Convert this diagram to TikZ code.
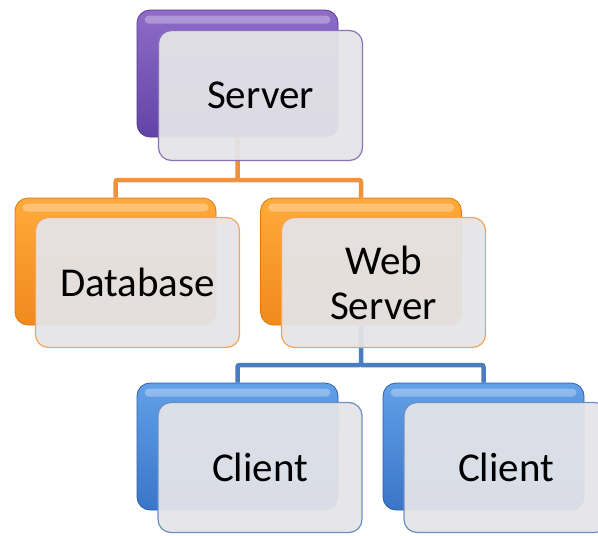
\documentclass[tikz,border=0pt]{standalone}
\usepackage{fontspec}
\setmainfont{Carlito}
\usetikzlibrary{calc}
\definecolor{pTop}{HTML}{8E6CC8}
\definecolor{pBot}{HTML}{6244A6}
\definecolor{pLine}{HTML}{553A8E}
\definecolor{pEdge}{HTML}{8A72B8}
\definecolor{oTop}{HTML}{FFAA3A}
\definecolor{oBot}{HTML}{F08A1C}
\definecolor{oLine}{HTML}{D9790E}
\definecolor{oEdge}{HTML}{F2A45A}
\definecolor{bTop}{HTML}{62A0E8}
\definecolor{bBot}{HTML}{3A75C8}
\definecolor{bLine}{HTML}{2E5EA6}
\definecolor{bEdge}{HTML}{6A90C6}
\definecolor{frontGray}{HTML}{E4E4E8}
\definecolor{oConn}{HTML}{F0923B}
\definecolor{bConn}{HTML}{4A7DC0}
\pgfdeclarelayer{bg}
\pgfsetlayers{bg,main}
\tikzset{
  backbox/.style n args={3}{rectangle, rounded corners=13pt,
    minimum width=201pt, minimum height=127pt, inner sep=0pt,
    draw=#1, line width=0.8pt, top color=#2, bottom color=#3},
  frontbox/.style={rectangle, rounded corners=13pt,
    minimum width=204pt, minimum height=130pt, inner sep=0pt,
    draw=#1, line width=1.2pt, fill=frontGray, fill opacity=0.94,
    text opacity=1, align=center, text=black,
    font=\fontsize{41}{45}\selectfont},
  gloss/.style={fill=white, opacity=0.3, rounded corners=4pt},
  conn/.style={draw=#1, line width=4.5pt, rounded corners=2pt}
}
\begin{document}
\begin{tikzpicture}[x=1pt,y=-1pt]
\useasboundingbox (0,0) rectangle (598,536);

\coordinate (bus1) at (0,180);
\coordinate (bus2) at (0,365);

% back boxes
\node[backbox={pLine}{pTop}{pBot}] (sb) at (237.5,73.5) {};
\node[backbox={oLine}{oTop}{oBot}] (db) at (115.5,261.5) {};
\node[backbox={oLine}{oTop}{oBot}] (wb) at (361,261.5) {};
\node[backbox={bLine}{bTop}{bBot}] (c1b) at (237.5,446.5) {};
\node[backbox={bLine}{bTop}{bBot}] (c2b) at (483.5,446.5) {};

% gloss highlights
\foreach \n in {sb,db,wb,c1b,c2b}{
  \fill[gloss] ([xshift=8pt,yshift=-6pt]\n.north west) rectangle ([xshift=-8pt,yshift=-14pt]\n.north east);
}

% front boxes
\node[frontbox=pEdge] (s) at (260.5,95.5) {Server};
\node[frontbox=oEdge] (d) at (137.5,282.5) {Database};
\node[frontbox=oEdge] (w) at (383.5,282.5) {Web\\Server};
\node[frontbox=bEdge] (c1) at (260,467.5) {Client};
\node[frontbox=bEdge] (c2) at (506,467.5) {Client};

% connectors
\begin{pgfonlayer}{bg}
\draw[conn=oConn] (sb.south) -- (sb.south |- bus1) -| (db.north);
\draw[conn=oConn] (sb.south |- bus1) -| (wb.north);
\draw[conn=bConn] (wb.south) -- (wb.south |- bus2) -| (c1b.north);
\draw[conn=bConn] (wb.south |- bus2) -| (c2b.north);
\end{pgfonlayer}
\end{tikzpicture}
\end{document}
